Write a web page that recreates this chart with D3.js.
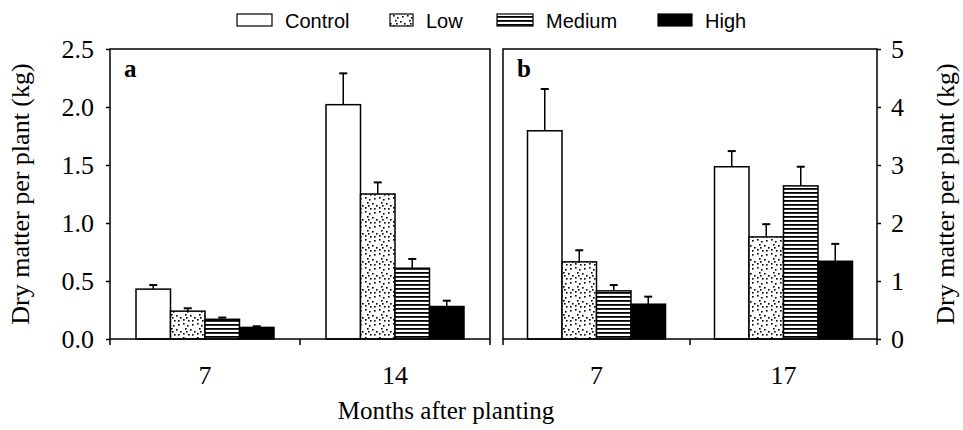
<!DOCTYPE html>
<html>
<head>
<meta charset="utf-8">
<script src="https://d3js.org/d3.v7.min.js"></script>
<style>
  body { margin: 0; background: #fff; }
  text { fill: #000; }
  .tick text { font-family: "Liberation Serif", "Times New Roman", serif; font-size: 26px; }
  .axis path, .axis line { stroke: #000; stroke-width: 1.5; }
</style>
</head>
<body>
<script>

// data
var series = ["Control", "Low", "Medium", "High"];

var monthsA = ["7", "14"];
var meanA = [[0.43, 2.02], [0.24, 1.25], [0.17, 0.61], [0.10, 0.28]];
var errA  = [[0.035, 0.27], [0.025, 0.10], [0.015, 0.08], [0.01, 0.05]];

var monthsB = ["7", "17"];
var meanB = [[3.59, 2.97], [1.33, 1.76], [0.83, 2.64], [0.60, 1.34]];
var errB  = [[0.72, 0.27], [0.20, 0.22], [0.10, 0.33], [0.13, 0.30]];

var ticksA = [0, 0.5, 1.0, 1.5, 2.0, 2.5];
var ticksB = [0, 1, 2, 3, 4, 5];

var width = 963, height = 430;
var top0 = 49, bottom0 = 339;

var svg = d3.select("body").append("svg")
    .attr("width", width)
    .attr("height", height);

// fill patterns
var defs = svg.append("defs");

var dots = defs.append("pattern")
    .attr("id", "pLow")
    .attr("patternUnits", "userSpaceOnUse")
    .attr("width", 14).attr("height", 14);
dots.append("rect").attr("width", 14).attr("height", 14).attr("fill", "#fff");
[[1,1],[5,3],[10,2],[3,6],[8,7],[12,9],[1,11],[6,12],[10,12],[4,9]].forEach(function(p){
  dots.append("rect").attr("x", p[0]).attr("y", p[1]).attr("width", 1.6).attr("height", 1.6).attr("fill", "#000");
});

var lines = defs.append("pattern")
    .attr("id", "pMed")
    .attr("patternUnits", "userSpaceOnUse")
    .attr("width", 16).attr("height", 4);
lines.append("rect").attr("width", 16).attr("height", 4).attr("fill", "#fff");
lines.append("rect").attr("y", 0).attr("width", 16).attr("height", 1.8).attr("fill", "#000");

var fills = ["#fff", "url(#pLow)", "url(#pMed)", "#000"];

function panel(x0, x1, months, mean, err, yMax, yTicks, fmt, side, letter) {
  var g = svg.append("g");

  var x = d3.scaleBand().domain(months).range([x0, x1]);
  var y = d3.scaleLinear().domain([0, yMax]).range([bottom0, top0]);
  var bw = x.bandwidth();
  var inner = d3.scaleBand().domain(series).range([(bw - 138) / 2, (bw + 138) / 2]);

  // bars
  series.forEach(function(s, i) {
    months.forEach(function(m, j) {
      var bx = x(m) + inner(s);
      var cx = bx + inner.bandwidth() / 2;
      g.append("line")
          .attr("x1", cx).attr("x2", cx)
          .attr("y1", y(mean[i][j])).attr("y2", y(mean[i][j] + err[i][j]))
          .attr("stroke", "#000").attr("stroke-width", 1.5);
      g.append("line")
          .attr("x1", cx - 4).attr("x2", cx + 4)
          .attr("y1", y(mean[i][j] + err[i][j])).attr("y2", y(mean[i][j] + err[i][j]))
          .attr("stroke", "#000").attr("stroke-width", 2);
      g.append("rect")
          .attr("x", bx)
          .attr("y", y(mean[i][j]))
          .attr("width", inner.bandwidth())
          .attr("height", y(0) - y(mean[i][j]))
          .attr("fill", fills[i])
          .attr("stroke", "#000")
          .attr("stroke-width", 1.5);
    });
  });

  // frame
  g.append("rect")
      .attr("x", x0).attr("y", top0)
      .attr("width", x1 - x0).attr("height", bottom0 - top0)
      .attr("fill", "none").attr("stroke", "#000").attr("stroke-width", 1.5);

  // y axis
  var yAxis = (side === "left" ? d3.axisLeft(y) : d3.axisRight(y))
      .tickValues(yTicks).tickFormat(fmt).tickSizeOuter(0).tickSize(4).tickPadding(side === "left" ? 12 : 10);
  g.append("g")
      .attr("class", "axis")
      .attr("transform", "translate(" + (side === "left" ? x0 : x1) + ",0)")
      .call(yAxis)
      .call(function(a){ a.select(".domain").remove(); });

  // x axis: ticks at category boundaries, labels at centres
  var bounds = [x0].concat(months.map(function(m){ return x(m) + bw; }));
  bounds.forEach(function(b){
    g.append("line").attr("x1", b).attr("x2", b).attr("y1", bottom0).attr("y2", bottom0 + 6)
        .attr("stroke", "#000").attr("stroke-width", 1.5);
  });
  months.forEach(function(m){
    g.append("text")
        .attr("x", x(m) + bw / 2)
        .attr("y", bottom0 + 45)
        .attr("text-anchor", "middle")
        .style("font-family", "Liberation Serif, serif")
        .style("font-size", "26px")
        .text(m);
  });

  g.append("text")
      .attr("x", x0 + 14).attr("y", top0 + 28)
      .style("font-family", "Liberation Serif, serif")
      .style("font-size", "25px")
      .style("font-weight", "bold")
      .text(letter);
}

panel(110, 490, monthsA, meanA, errA, 2.5, ticksA, d3.format(".1f"), "left", "a");
panel(503, 877, monthsB, meanB, errB, 5, ticksB, d3.format("d"), "right", "b");

// axis titles
svg.append("text")
    .attr("transform", "translate(29," + (top0 + bottom0) / 2 + ") rotate(-90)")
    .attr("text-anchor", "middle")
    .style("font-family", "Liberation Serif, serif")
    .style("font-size", "26px")
    .text("Dry matter per plant (kg)");

svg.append("text")
    .attr("transform", "translate(954," + (top0 + bottom0) / 2 + ") rotate(-90)")
    .attr("text-anchor", "middle")
    .style("font-family", "Liberation Serif, serif")
    .style("font-size", "26px")
    .text("Dry matter per plant (kg)");

svg.append("text")
    .attr("x", 446).attr("y", 419)
    .attr("text-anchor", "middle")
    .style("font-family", "Liberation Serif, serif")
    .style("font-size", "25px")
    .text("Months after planting");

// legend
var legendX = [237, 390, 497, 658];
var legendW = [35, 23, 36, 34];
var legend = svg.append("g");
series.forEach(function(s, i){
  legend.append("rect")
      .attr("x", legendX[i]).attr("y", 14)
      .attr("width", legendW[i]).attr("height", 12)
      .attr("fill", fills[i]).attr("stroke", "#000").attr("stroke-width", 1.2);
  legend.append("text")
      .attr("x", legendX[i] + legendW[i] + 13).attr("y", 28)
      .style("font-family", "Liberation Sans, Arial, sans-serif")
      .style("font-size", "20px")
      .text(s);
});

</script>
</body>
</html>
